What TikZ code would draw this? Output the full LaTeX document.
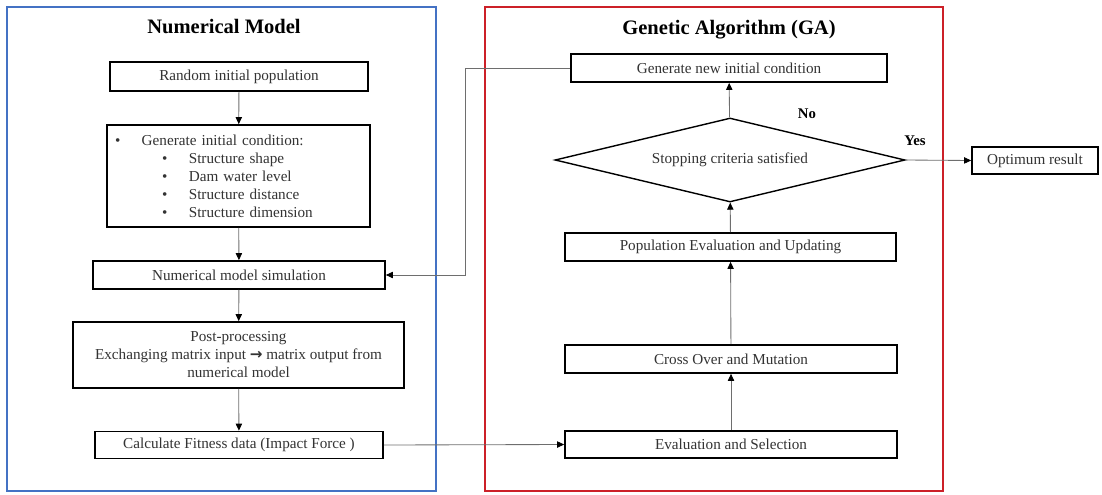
\documentclass[tikz,border=0pt]{standalone}
\usepackage{fontspec}
\setmainfont{Liberation Serif}
\newfontfamily\arrowfont{DejaVu Sans}
\usetikzlibrary{shapes.geometric,arrows.meta}
\newcommand{\pxu}{0.025cm}
\definecolor{nmblue}{RGB}{68,114,196}
\definecolor{gared}{RGB}{204,32,40}
\definecolor{lnk}{RGB}{110,110,110}
\tikzset{
    blk/.style={draw, line width=1.2pt, fill=white, inner sep=0pt, align=center, text=black!80,
        font=\fontsize{10.8}{12.8}\selectfont},
    flow/.style={draw=lnk, line width=0.6pt, -{Triangle[black, length=5pt, width=4.5pt]}},
    ttl/.style={font=\fontsize{14.6}{17}\selectfont\bfseries},
    yn/.style={font=\fontsize{10.5}{12}\selectfont\bfseries}
}
\begin{document}
\begin{tikzpicture}[x=0.025cm, y=-0.025cm]
    \useasboundingbox (0,0) rectangle (1102,494);
    % frames
    \draw[nmblue, line width=0.8pt] (7,7) rectangle (436,491);
    \draw[gared, line width=0.8pt] (485,7) rectangle (943,491);
    \node[ttl] (nmtitle) at (224,27) {Numerical Model};
    \node[ttl] (gatitle) at (729,30) {Genetic Algorithm (GA)};
    % numerical model
    \node[blk, minimum width=258*\pxu, minimum height=29*\pxu] (rip) at (239,76.5) {Random initial population};
    \node[blk, minimum width=263*\pxu, minimum height=102*\pxu, text width=247*\pxu, align=left] (gic) at (238.5,176) {%
        \makebox[19pt][l]{\textbullet}Generate initial condition:\\
        \hspace*{33.5pt}\makebox[19pt][l]{\textbullet}Structure shape\\
        \hspace*{33.5pt}\makebox[19pt][l]{\textbullet}Dam water level\\
        \hspace*{33.5pt}\makebox[19pt][l]{\textbullet}Structure distance\\
        \hspace*{33.5pt}\makebox[19pt][l]{\textbullet}Structure dimension};
    \node[blk, minimum width=292*\pxu, minimum height=28*\pxu] (nms) at (239,275) {Numerical model simulation};
    \node[blk, minimum width=331*\pxu, minimum height=66*\pxu] (post) at (238.5,355) {Post-processing\\
        Exchanging matrix input {\arrowfont\bfseries →} matrix output from\\ numerical model};
    \node[blk, minimum width=288*\pxu, minimum height=27*\pxu] (fit) at (239,445) {Calculate Fitness data (Impact Force )};
    % genetic algorithm
    \node[blk, minimum width=316*\pxu, minimum height=28*\pxu] (gnc) at (729,68) {Generate new initial condition};
    \node[blk, diamond, aspect=4.17, line width=1pt, minimum width=350*\pxu, minimum height=84*\pxu] (stop) at (730,160) {Stopping criteria satisfied};
    \node[blk, minimum width=331*\pxu, minimum height=28*\pxu] (pe) at (730.5,247) {Population Evaluation and Updating};
    \node[blk, minimum width=332*\pxu, minimum height=28*\pxu] (com) at (731,359) {Cross Over and Mutation};
    \node[blk, minimum width=332*\pxu, minimum height=27*\pxu] (es) at (731,444.5) {Evaluation and Selection};
    \node[blk, minimum width=126*\pxu, minimum height=27*\pxu] (opt) at (1035,160.5) {Optimum result};
    \node[yn] (no) at (807,114) {No};
    \node[yn] (yes) at (915,141) {Yes};
    % connectors
    \draw[flow] (rip) -- (gic);
    \draw[flow] (gic) -- (nms);
    \draw[flow] (nms) -- (post);
    \draw[flow] (post) -- (fit);
    \draw[flow] (fit.east) -- (es.west);
    \draw[flow] (es) -- (com);
    \draw[flow] (com) -- (pe);
    \draw[flow] (pe) -- (stop);
    \draw[flow] (stop) -- (gnc);
    \draw[flow] (stop.east) -- (opt.west);
    \coordinate (bend) at (465,68);
    \draw[flow] (gnc.west) -- (bend) |- (nms.east);
\end{tikzpicture}
\end{document}
